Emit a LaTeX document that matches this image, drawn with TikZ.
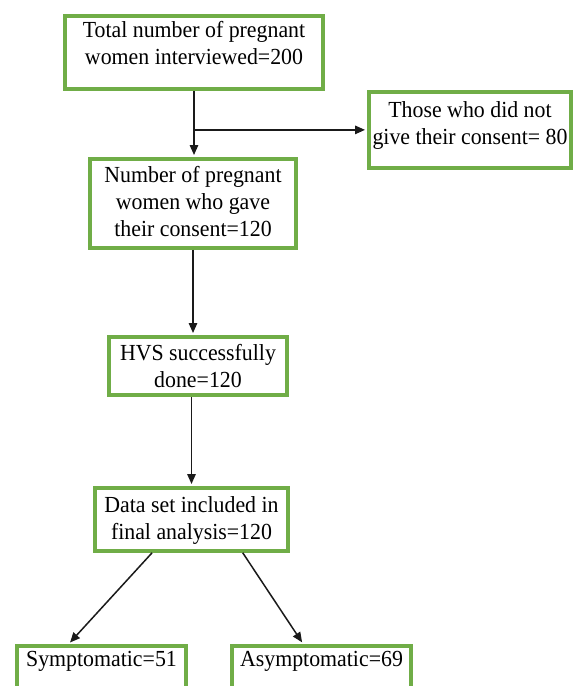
\documentclass[tikz,border=0pt]{standalone}
\usepackage{fontspec}
\setmainfont{Liberation Serif}
\newfontfamily\boxfont[FakeStretch=0.95]{Liberation Serif}
\usepackage{tikz}
\usetikzlibrary{calc,arrows.meta}
\definecolor{figGreen}{HTML}{70AD47}
\definecolor{figInk}{HTML}{1A1A1A}

\begin{document}
\begin{tikzpicture}[
  x=1pt, y=-1pt,
  every node/.style={font=\boxfont\fontsize{23}{27}\selectfont},
  stage/.style={draw=figGreen, line width=4pt, anchor=north, align=center,
    inner xsep=2pt, inner ysep=5pt, fill=white},
  arr/.style={-{Triangle[length=10pt,width=8.5pt]}, line width=1.5pt, figInk,
    shorten >=2pt},
]
\clip (0,0) rectangle (574,686);

% Recruitment
\node[stage, minimum width=258pt, text depth=20pt] (total) at (194,14)
  {Total number of pregnant\\women interviewed=200};
\node[stage, minimum width=202pt, inner ysep=10pt, text depth=12.8pt] (nocon) at (470,90)
  {Those who did not\\give their consent= 80};
\node[stage, minimum width=206pt, inner ysep=7pt, text depth=4.8pt] (consent) at (193,157)
  {Number of pregnant\\women who gave\\their consent=120};

% Sampling and analysis
\node[stage, minimum width=178pt, inner ysep=7pt, text depth=0.8pt] (hvs) at (198,335)
  {HVS successfully\\done=120};
\node[stage, minimum width=193pt, inner ysep=9pt, text depth=1.8pt] (dataset) at (191.5,486)
  {Data set included in\\final analysis=120};

% Outcome groups
\node[stage, minimum width=169pt, text depth=25pt] (sympt) at (101.5,644)
  {Symptomatic=51};
\node[stage, minimum width=179pt, text depth=25pt] (asympt) at (321.5,644)
  {Asymptomatic=69};

% Flow arrows
\coordinate (split) at (total.south |- nocon.west);
\draw[arr] (total.south) -- (total.south |- consent.north);
\draw[arr] (split) -- (nocon.west);
\draw[arr] (consent.south) -- (consent.south |- hvs.north);
\draw[arr] (dataset.north |- hvs.south) -- (dataset.north);
\draw[arr] ($(dataset.south west)!0.3!(dataset.south east)$)
  -- ($(sympt.north west)!0.31!(sympt.north east)$);
\draw[arr] ($(dataset.south west)!0.76!(dataset.south east)$)
  -- ($(asympt.north west)!0.4!(asympt.north east)$);

\end{tikzpicture}
\end{document}
